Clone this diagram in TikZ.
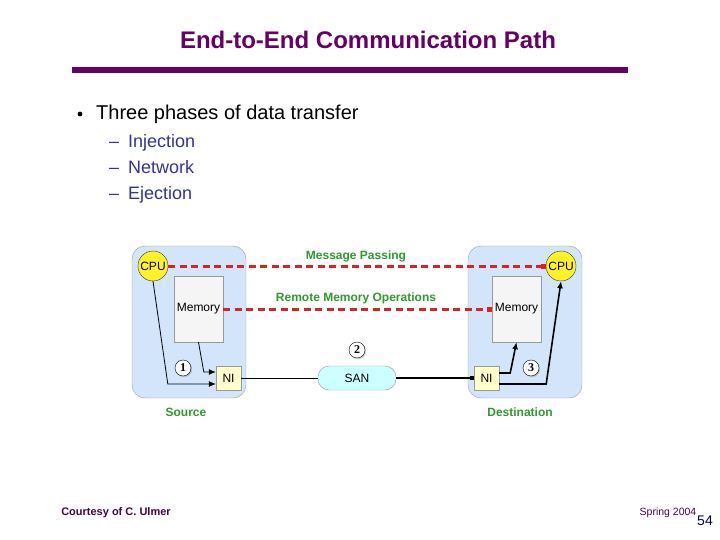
\documentclass[tikz,border=0pt]{standalone}
\usepackage{fontspec}
\setmainfont{Liberation Sans}
\newfontfamily\numfont{Liberation Serif}
\usetikzlibrary{arrows.meta,positioning,calc,shadows}
\definecolor{titlepurple}{HTML}{660066}
\definecolor{subblue}{HTML}{333399}
\definecolor{footpurple}{HTML}{400840}
\definecolor{hostblue}{HTML}{D2E5FA}
\definecolor{cpuyellow}{HTML}{FFF22A}
\definecolor{niyellow}{HTML}{FFFFCC}
\definecolor{sancyan}{HTML}{CCFFFF}
\definecolor{memwhite}{HTML}{F5F5F5}
\definecolor{pathred}{HTML}{D42424}
\definecolor{labelgreen}{HTML}{2E9A2E}

\tikzset{
  host/.style={draw=gray!75,fill=hostblue,rounded corners=13pt,minimum width=114pt,minimum height=152pt},
  cpu/.style={circle,draw=black!80,fill=cpuyellow,inner sep=0pt,minimum size=30pt,font=\fontsize{12}{12}\selectfont},
  membox/.style={draw=gray!80,fill=memwhite,minimum width=49pt,minimum height=66pt,inner sep=1pt,font=\fontsize{12}{12}\selectfont},
  nibox/.style={draw=gray!80,fill=niyellow,minimum width=25pt,minimum height=24pt,inner sep=0pt,font=\fontsize{12}{12}\selectfont},
  sanbox/.style={draw=gray!80,fill=sancyan,rounded corners=11pt,minimum width=78pt,minimum height=24pt,font=\fontsize{12}{12}\selectfont},
  phase/.style={circle,draw=black,fill=white,inner sep=0pt,minimum size=16pt,
    drop shadow={opacity=0.35,shadow xshift=1.2pt,shadow yshift=-1.2pt},font=\numfont\bfseries\fontsize{12}{12}\selectfont},
  rdma/.style={pathred,line width=3pt,dash pattern=on 7pt off 4.5pt,-{Square[length=5pt,width=5pt]}},
  pathlbl/.style={labelgreen,font=\bfseries\fontsize{12}{12}\selectfont},
  hostlbl/.style={labelgreen,font=\bfseries\fontsize{12}{12}\selectfont},
  sublbl/.style={anchor=base west,subblue,font=\fontsize{18}{18}\selectfont},
  link/.style={black,line width=0.8pt,-{Latex[length=7pt,width=6pt]}},
  boldlink/.style={black,line width=1.6pt,-{Latex[length=7pt,width=6pt]}}
}

\begin{document}
\begin{tikzpicture}[x=1pt,y=-1pt,every node/.style={inner sep=0pt}]
  \useasboundingbox (0,0) rectangle (720,540);
  \fill[white] (0,0) rectangle (720,540);

  % titre
  \node[titlepurple,font=\bfseries\fontsize{24}{24}\selectfont] (title) at (368,40) {End-to-End Communication Path};
  \fill[titlepurple] (72,67) rectangle (628,73);

  % liste
  \fill (80,114) circle (2.4pt);
  \node[anchor=west,font=\fontsize{20}{20}\selectfont] (head) at (96,114) {Three phases of data transfer};
  \foreach \y/\txt in {148/Injection,174/Network,200/Ejection} {
    \node[sublbl] at (109,\y) {--};
    \node[sublbl] at (128,\y) {\txt};
  }

  % noeuds source / destination
  \node[host] (srcHost) at (189,322) {};
  \node[host] (dstHost) at (525,322) {};
  \node[membox] (srcMem) at (198.5,309) {Memory};
  \node[membox] (dstMem) at (516.5,309) {Memory};
  \node[cpu] (srcCpu) at (153,266) {CPU};
  \node[cpu] (dstCpu) at (561,266) {CPU};
  \node[nibox] (srcNi) at (228.5,378) {NI};
  \node[nibox] (dstNi) at (486.5,378) {NI};
  \node[sanbox] (san) at (357,378) {SAN};

  % phases
  \node[phase] (phase1) at (183,368) {1};
  \node[phase] (phase2) at (357,350) {2};
  \node[phase] (phase3) at (531,368) {3};

  % injection
  \draw[link] (srcCpu.south) -- ($(srcNi.west)+(-48,6)$) -- ($(srcNi.west)+(0,6)$);
  \draw[link] (srcMem.south) -- ($(srcNi.west)+(-12,-6)$) -- ($(srcNi.west)+(0,-6)$);
  % reseau
  \draw[black,line width=0.8pt] (srcNi.east) -- (san.west);
  \draw[black,line width=1.6pt,-{Square[length=4pt,width=4pt]}] (san.east) -- (dstNi.west);
  % ejection
  \draw[boldlink] ($(dstNi.east)+(0,-5)$) -- ($(dstNi.east)+(11,-5)$) -- (dstMem.south);
  \draw[boldlink] ($(dstNi.east)+(0,6)$) -- ($(dstNi.east)+(47,6)$) -- (dstCpu.south);

  % chemins logiques
  \draw[rdma] (srcCpu.east) -- (dstCpu.west);
  \draw[rdma] (srcMem.east) -- (dstMem.west);
  \node[pathlbl] (mpLbl) at (356,256) {Message Passing};
  \node[pathlbl] (rmoLbl) at (356,298) {Remote Memory Operations};
  \node[hostlbl] (srcLbl) at (186,412) {Source};
  \node[hostlbl] (dstLbl) at (520,412) {Destination};

  % pied de page
  \node[footpurple,font=\bfseries\fontsize{11}{11}\selectfont] (credit) at (116,513) {Courtesy of C. Ulmer};
  \node[footpurple,font=\fontsize{10.5}{10.5}\selectfont] (term) at (668,513) {Spring 2004};
  \node[black!70!blue,font=\fontsize{14}{14}\selectfont] (page) at (705,521) {54};
\end{tikzpicture}
\end{document}
